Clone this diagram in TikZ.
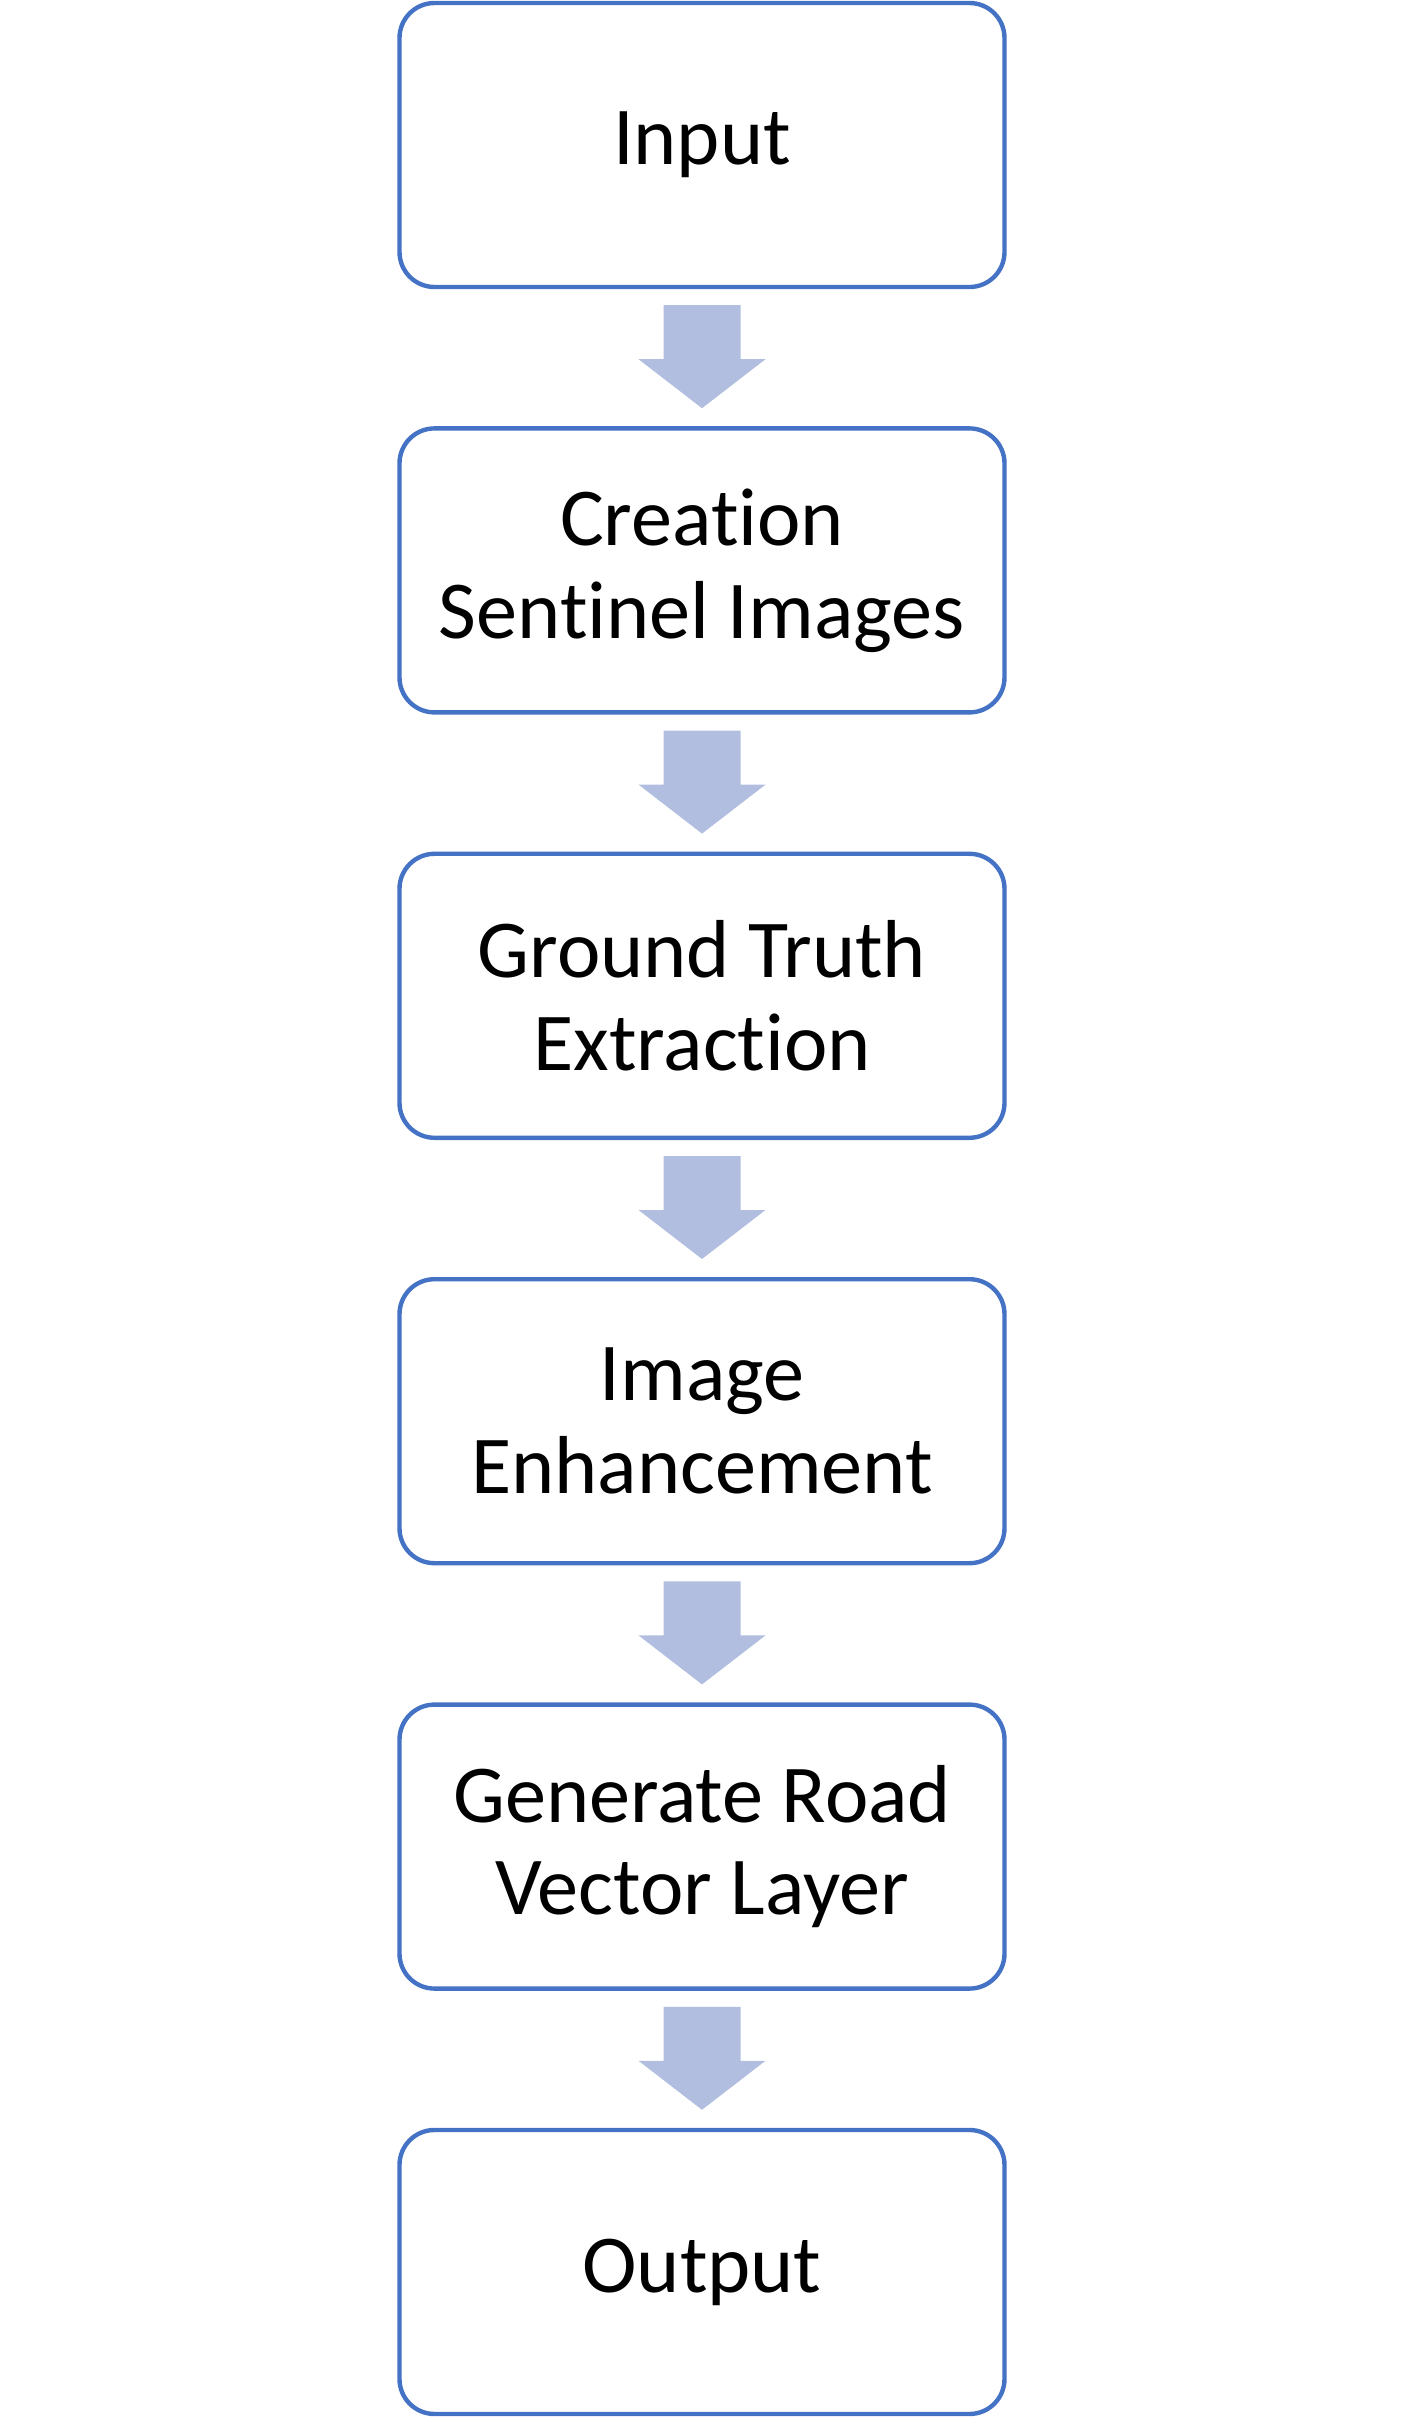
\documentclass[tikz,border=0pt]{standalone}
\usepackage{fontspec}
\setmainfont[Ligatures=NoCommon]{Carlito}
\usepackage{xcolor}
\usetikzlibrary{positioning}
\usetikzlibrary{calc}

\definecolor{boxblue}{RGB}{68,114,196}
\definecolor{arrowblue}{RGB}{177,190,223}

\begin{document}
\begin{tikzpicture}[stepbox/.style = {draw = boxblue, line width = 1.25pt, rounded corners = 0.35cm, align = center, minimum width = 6.05cm, minimum height = 2.84cm, font = \fontsize{23.4}{26.4}\selectfont}, flowarrow/.style = {fill = arrowblue}, node distance = 1.37cm]
		\useasboundingbox (0,0) rectangle (14.04,-24.18);
		\node[stepbox] (A) at (7.02,-1.45) {Input};
		\node[stepbox, below = of A] (B) {Creation\\Sentinel Images};
		\node[stepbox, below = of B] (C) {Ground Truth\\Extraction};
		\node[stepbox, below = of C] (D) {Image\\Enhancement};
		\node[stepbox, below = of D] (E) {Generate Road\\Vector Layer};
		\node[stepbox, below = of E] (F) {Output};
		
		\foreach \a/\b in {A/B, B/C, C/D, D/E, E/F}
		\fill[flowarrow] ($(\a.south)+(-0.385,-0.16)$) -- ($(\a.south)+(-0.385,-0.70)$) -- ($(\a.south)+(-0.635,-0.70)$) -- ($(\b.north)+(0,0.18)$) -- ($(\a.south)+(0.635,-0.70)$) -- ($(\a.south)+(0.385,-0.70)$) -- ($(\a.south)+(0.385,-0.16)$) -- cycle;
		
\end{tikzpicture}
\end{document}
